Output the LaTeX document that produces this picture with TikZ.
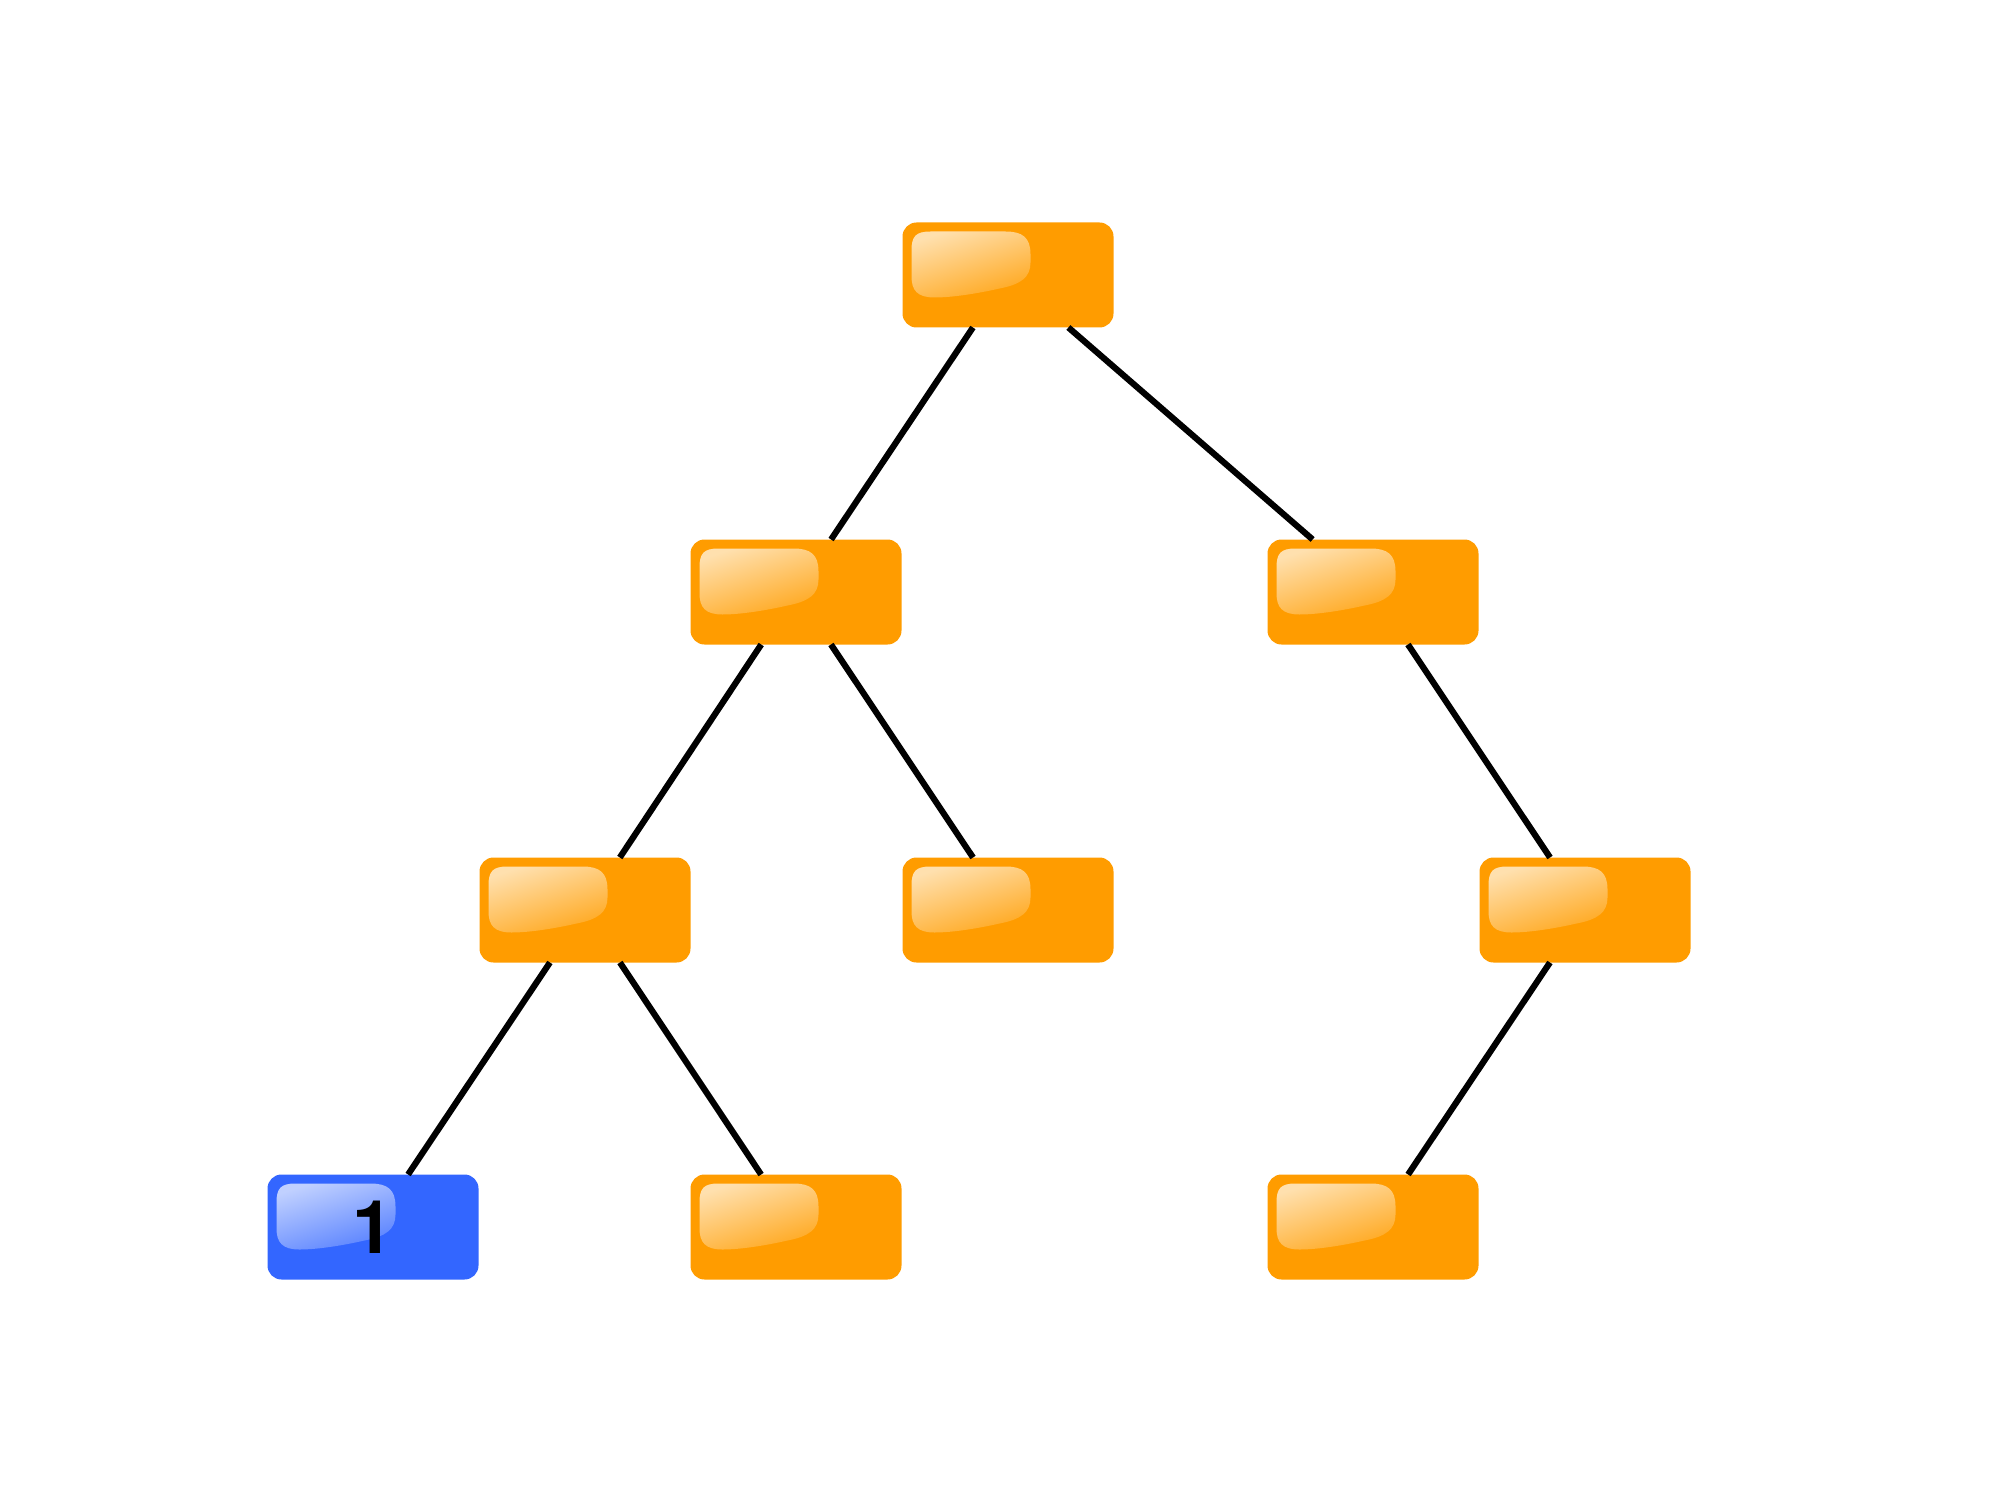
\documentclass[tikz,border=0pt]{standalone}
\usepackage{fontspec}
\setmainfont{TeX Gyre Heros}
\newfontfamily\numfont{texgyreheros-bold.otf}
\definecolor{boxorange}{RGB}{255,156,0}
\definecolor{hlorange}{RGB}{255,224,174}
\definecolor{boxblue}{RGB}{51,102,255}
\definecolor{hlblue}{RGB}{192,208,255}
\tikzset{
  treebox/.style={rectangle, rounded corners=7pt, minimum width=105.5pt,
    minimum height=52.5pt, inner sep=0pt, outer sep=0pt},
  orangebox/.style={treebox, fill=boxorange},
  bluebox/.style={treebox, fill=boxblue},
  numlabel/.style={inner sep=0pt, font=\numfont\fontsize{37}{40}\selectfont},
  edge/.style={draw=black, line width=3.1pt}
}
\newcommand{\highlight}[3]{%
  \begin{scope}[shift={(#1.north west)}]
    \shade[top color=#2, bottom color=#3, shading angle=18]
      (9,28) .. controls (9,14) and (13,9) .. (28,9) -- (103,9)
      .. controls (120,9) and (128,15) .. (128,32) -- (128,40)
      .. controls (128,55) and (118,62) .. (97,66)
      .. controls (75,71) and (50,75) .. (32,75)
      .. controls (15,75) and (9,68) .. (9,54) -- cycle;
  \end{scope}}
\begin{document}
\begin{tikzpicture}[x=0.5pt, y=-0.5pt]
\useasboundingbox (0,0) rectangle (2000,1492);
\node[orangebox] (root) at (1008,275) {};
\node[orangebox] (l) at (796,592) {};
\node[orangebox] (r) at (1373,592) {};
\node[orangebox] (ll) at (585,910) {};
\node[orangebox] (lr) at (1008,910) {};
\node[orangebox] (rr) at (1585,910) {};
\node[bluebox] (lll) at (373,1227) {};
\node[orangebox] (llr) at (796,1227) {};
\node[orangebox] (rrl) at (1373,1227) {};
\foreach \n in {root,l,r,ll,lr,rr,llr,rrl} {\highlight{\n}{hlorange}{boxorange!88!white}}
\highlight{lll}{hlblue}{boxblue!82!white}
\node[numlabel] (lbl) at (lll.center) {1};
\draw[edge] (root) -- (l);
\draw[edge] (root) -- (r);
\draw[edge] (l) -- (ll);
\draw[edge] (l) -- (lr);
\draw[edge] (r) -- (rr);
\draw[edge] (ll) -- (lll);
\draw[edge] (ll) -- (llr);
\draw[edge] (rr) -- (rrl);
\end{tikzpicture}
\end{document}
